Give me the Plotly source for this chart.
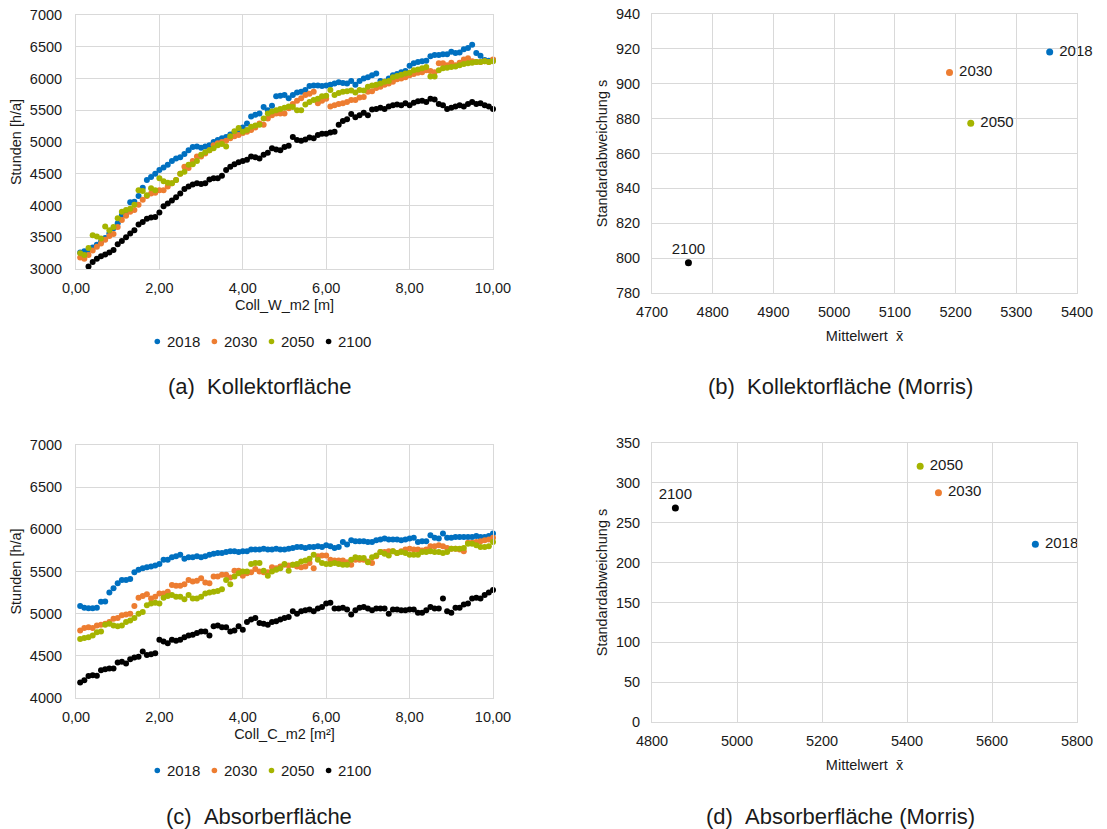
import numpy as np
import plotly.graph_objects as go

YEARS = ["2018", "2030", "2050", "2100"]
COLORS = ["#0070C0", "#ED7D31", "#A5B400", "#000000"]

# x positions (parameter value, step 0.1)
X = np.round(np.arange(1, 101) * 0.1, 1)

# (a) Kollektorfläche – Stunden [h/a]
A_2018 = [3260, 3280, 3300, 3340, 3380, 3430, 3490, 3560, 3640, 3720,
          3850, 3880, 4050, 4060, 4150, 4280, 4400, 4450, 4500, 4560,
          4600, 4640, 4700, 4740, 4760, 4810, 4870, 4920, 4930, 4910,
          4930, 4950, 5000, 5030, 5060, 5080, 5120, 5150, 5190, 5230,
          5290, 5400, 5430, 5450, 5550, 5500, 5570, 5720, 5730, 5740,
          5690, 5740, 5780, 5790, 5820, 5880, 5890, 5890, 5880, 5890,
          5900, 5920, 5940, 5930, 5920, 5960, 5900, 5960, 6000, 6020,
          6050, 6080, 5960, 5950, 6000, 6050, 6070, 6100, 6120, 6200,
          6240, 6260, 6270, 6280, 6350, 6370, 6370, 6380, 6380, 6420,
          6400, 6410, 6460, 6480, 6530, 6400, 6360, 6290, 6280, 6290]
A_2030 = [3180, 3160, 3220, 3290, 3350, 3400, 3460, 3520, 3550, 3660,
          3770, 3840, 3900, 3930, 4010, 4090, 4150, 4190, 4200, 4240,
          4240, 4300, 4350, 4400, 4500, 4610, 4590, 4700, 4770, 4770,
          4820, 4870, 4950, 4980, 5000, 5020, 5060, 5090, 5110, 5140,
          5160, 5190, 5230, 5290, 5270, 5370, 5420, 5450, 5450, 5450,
          5530, 5600, 5650, 5690, 5740, 5760, 5790, 5610, 5650, 5680,
          5560, 5580, 5600, 5610, 5630, 5660, 5660, 5700, 5710, 5790,
          5800, 5850, 5870, 5900, 5920, 5950, 5990, 6000, 6020, 6050,
          6070, 6090, 6100, 6130, 6120, 6100, 6240, 6240, 6210, 6250,
          6210, 6250, 6300, 6320, 6270, 6260, 6260, 6270, 6260, 6300]
A_2050 = [3250, 3220, 3330, 3530, 3510, 3480, 3670, 3610, 3660, 3800,
          3900, 3930, 3950, 4010, 4240, 4230, 4160, 4270, 4240, 4430,
          4380, 4360, 4350, 4400, 4500, 4530, 4640, 4650, 4700, 4800,
          4840, 4870, 4900, 4950, 4970, 4930, 5090, 5170, 5220, 5160,
          5190, 5240, 5260, 5270, 5370, 5450, 5480, 5500, 5520, 5540,
          5560, 5550, 5500, 5500, 5590, 5630, 5660, 5680, 5720, 5730,
          5820, 5740, 5770, 5790, 5800, 5810, 5780, 5820, 5810, 5870,
          5890, 5900, 5920, 5950, 5960, 6020, 6040, 6060, 6080, 6090,
          6130, 6140, 6160, 6180, 6030, 6030, 6130, 6160, 6170, 6180,
          6190, 6210, 6230, 6240, 6250, 6260, 6260, 6270, 6260, 6270]
A_2100 = [None, None, 3040, 3110, 3160, 3200, 3230, 3260, 3300, 3390,
          3440, 3500, 3560, 3610, 3700, 3740, 3790, 3810, 3820, 3890,
          3990, 4030, 4080, 4130, 4190, 4260, 4300, 4330, 4350, 4340,
          4350, 4410, 4430, 4430, 4470, 4560, 4610, 4650, 4680, 4700,
          4720, 4770, 4760, 4740, 4800, 4830, 4900, 4880, 4870, 4920,
          4940, 5080, 5030, 5020, 5040, 5070, 5060, 5110, 5130, 5130,
          5150, 5160, 5270, 5330, 5360, 5440, 5390, 5420, 5460, 5420,
          5510, 5520, 5540, 5520, 5560, 5580, 5590, 5580, 5610, 5580,
          5620, 5640, 5650, 5630, 5680, 5670, 5600, 5580, 5520, 5540,
          5560, 5580, 5560, 5600, 5630, 5600, 5610, 5580, 5560, 5520]

# (c) Absorberfläche – Stunden [h/a]
C_2018 = [5090, 5070, 5065, 5065, 5070, 5140, 5145, 5250, 5300, 5360,
          5400, 5400, 5410, 5490, 5520, 5540, 5550, 5560, 5570, 5590,
          5640, 5640, 5670, 5680, 5700, 5650, 5670, 5670, 5680, 5670,
          5680, 5700, 5710, 5720, 5720, 5730, 5740, 5740, 5730, 5740,
          5740, 5760, 5760, 5760, 5770, 5760, 5760, 5770, 5760, 5760,
          5770, 5780, 5790, 5790, 5780, 5790, 5790, 5800, 5790, 5810,
          5800, 5780, 5790, 5850, 5820, 5870, 5860, 5860, 5860, 5850,
          5850, 5870, 5880, 5890, 5880, 5880, 5880, 5870, 5880, 5890,
          5900, 5850, 5860, 5860, 5930, 5900, 5890, 5950, 5900, 5900,
          5910, 5910, 5910, 5910, 5910, 5920, 5910, 5910, 5920, 5950]
C_2030 = [4800, 4830, 4840, 4830, 4860, 4870, 4880, 4900, 4940, 4950,
          4980, 4990, 5000, 5090, 5190, 5210, 5230, 5180, 5200, 5240,
          5240, 5260, 5340, 5330, 5330, 5350, 5400, 5380, 5390, 5420,
          5370, 5360, 5440, 5440, 5460, 5460, 5430, 5510, 5510, 5450,
          5480, 5490, 5530, 5500, 5490, 5490, 5550, 5540, 5560, 5580,
          5570, 5580, 5560, 5550, 5560, 5600, 5540, 5680, 5690, 5690,
          5640, 5630, 5630, 5630, 5610, 5580, 5640, 5640, 5640, 5620,
          5600, 5680, 5730, 5730, 5740, 5740, 5720, 5740, 5760, 5770,
          5760, 5760, 5750, 5760, 5800, 5800, 5810, 5800, 5780, 5770,
          5770, 5760, 5740, 5840, 5840, 5850, 5860, 5870, 5880, 5900]
C_2050 = [4700, 4710, 4720, 4740, 4780, 4790, 4870, 4880, 4860, 4850,
          4860, 4900, 4920, 4950, 5000, 5020, 5100, 5120, 5130, 5120,
          5190, 5210, 5220, 5200, 5200, 5170, 5220, 5180, 5180, 5200,
          5240, 5250, 5260, 5270, 5290, 5400, 5350, 5440, 5480, 5500,
          5500, 5590, 5600, 5600, 5510, 5450, 5500, 5520, 5540, 5590,
          5510, 5580, 5590, 5620, 5630, 5650, 5700, 5640, 5600, 5590,
          5590, 5600, 5590, 5580, 5580, 5640, 5670, 5660, 5660, 5610,
          5670, 5690, 5730, 5710, 5690, 5740, 5720, 5730, 5720, 5700,
          5700, 5700, 5730, 5730, 5740, 5730, 5730, 5720, 5730, 5770,
          5770, 5770, 5780, 5830, 5830, 5810, 5790, 5790, 5800, 5850]
C_2100 = [4185, 4210, 4260, 4270, 4265, 4330, 4340, 4350, 4350, 4420,
          4430, 4410, 4460, 4480, 4490, 4550, 4510, 4520, 4530, 4690,
          4670, 4650, 4690, 4680, 4690, 4720, 4740, 4750, 4770, 4790,
          4790, 4740, 4850, 4860, 4840, 4840, 4790, 4800, 4850, 4810,
          4900, 4930, 4950, 4890, 4880, 4870, 4900, 4910, 4930, 4950,
          4960, 5030, 5000, 5030, 5040, 5050, 5030, 5060, 5080, 5120,
          5130, 5060, 5060, 5070, 5050, 4990, 5040, 5070, 5080, 5060,
          5040, 5060, 5060, 5060, 5000, 5050, 5050, 5040, 5040, 5050,
          5050, 5010, 5010, 5040, 5080, 5060, 5060, 5180, 5030, 5010,
          5070, 5070, 5110, 5120, 5180, 5190, 5180, 5220, 5250, 5280]

# (b) Morris – Kollektorfläche
B_MEAN = [5355, 5190, 5225, 4760]
B_STD = [918.2, 906.5, 877.4, 797.4]
B_POS = ["middle right", "middle right", "middle right", "top center"]

# (d) Morris – Absorberfläche
D_MEAN = [5702, 5474, 5431, 4855]
D_STD = [222.9, 287.7, 320.7, 268.4]
D_POS = ["middle right", "middle right", "middle right", "top center"]

SERIES_A = [A_2018, A_2030, A_2050, A_2100]
SERIES_C = [C_2018, C_2030, C_2050, C_2100]

FONT = "Liberation Sans, Arial, sans-serif"
TXT = "#1a1a1a"
GRID = "#d9d9d9"
# the page places the figure 8 px from the top-left corner of the window
OFF = 8
W, H = 1107 - OFF, 829 - OFF

fig = go.Figure()

for name, col, ya in zip(YEARS, COLORS, SERIES_A):
    fig.add_trace(go.Scatter(x=X, y=ya, mode="markers", name=name,
                             marker=dict(color=col, size=6),
                             xaxis="x", yaxis="y", showlegend=False,
                             cliponaxis=False))
for name, col, yc in zip(YEARS, COLORS, SERIES_C):
    fig.add_trace(go.Scatter(x=X, y=yc, mode="markers", name=name,
                             marker=dict(color=col, size=6),
                             xaxis="x3", yaxis="y3", showlegend=False,
                             cliponaxis=False))
for i, (name, col) in enumerate(zip(YEARS, COLORS)):
    lab_b = name if B_POS[i] == "top center" else "\u00a0" + name
    lab_d = name if D_POS[i] == "top center" else "\u00a0" + name
    fig.add_trace(go.Scatter(x=[B_MEAN[i]], y=[B_STD[i]], mode="markers+text",
                             text=[lab_b], textposition=B_POS[i], name=name,
                             textfont=dict(size=15, color=TXT, family=FONT),
                             marker=dict(color=col, size=7), showlegend=False,
                             xaxis="x2", yaxis="y2", cliponaxis=False))
    fig.add_trace(go.Scatter(x=[D_MEAN[i]], y=[D_STD[i]], mode="markers+text",
                             text=[lab_d], textposition=D_POS[i], name=name,
                             textfont=dict(size=15, color=TXT, family=FONT),
                             marker=dict(color=col, size=7), showlegend=False,
                             xaxis="x4", yaxis="y4", cliponaxis=False))


def fx(px):
    return (px - OFF) / W


def fy(py):
    return 1 - (py - OFF) / H


def px_dom_x(a, b):
    return [fx(a), fx(b)]


def px_dom_y(top, bottom):
    return [fy(bottom), fy(top)]


axis_common = dict(showgrid=True, gridcolor=GRID, gridwidth=1, zeroline=False,
                   showline=True, linecolor=GRID, linewidth=1, mirror=True,
                   automargin=False, ticklabeloverflow="allow",
                   ticks="", tickfont=dict(size=14.5, color=TXT, family=FONT),
                   title_font=dict(size=14.5, color=TXT, family=FONT))

fig.update_layout(
    width=W, height=H,
    margin=dict(l=0, r=0, t=0, b=0),
    paper_bgcolor="white", plot_bgcolor="white",
    separators=",.",
    showlegend=False,
    font=dict(family=FONT, color=TXT),
    xaxis=dict(axis_common, domain=px_dom_x(76, 493), anchor="y",
               range=[0, 10], dtick=2, tickformat=".2f", ticklabelstandoff=6,
               title=dict(text="Coll_W_m2 [m]", standoff=4)),
    yaxis=dict(axis_common, domain=px_dom_y(15, 269), anchor="x",
               range=[3000, 7000], dtick=500, tickformat="d", ticklabelstandoff=10,
               title=dict(text="Stunden [h/a]", standoff=4)),
    xaxis3=dict(axis_common, domain=px_dom_x(76, 493), anchor="y3",
                range=[0, 10], dtick=2, tickformat=".2f", ticklabelstandoff=6,
                title=dict(text="Coll_C_m2 [m²]", standoff=4)),
    yaxis3=dict(axis_common, domain=px_dom_y(445, 698), anchor="x3",
                range=[4000, 7000], dtick=500, tickformat="d", ticklabelstandoff=10,
                title=dict(text="Stunden [h/a]", standoff=4)),
    xaxis2=dict(axis_common, domain=px_dom_x(652, 1077), anchor="y2",
                range=[4700, 5400], dtick=100, tickformat="d", ticklabelstandoff=6,
                title=dict(text="Mittelwert  x\u0304", standoff=11)),
    yaxis2=dict(axis_common, domain=px_dom_y(14, 293), anchor="x2",
                range=[780, 940], dtick=20, tickformat="d", ticklabelstandoff=8,
                title=dict(text="Standardabweichung s", standoff=4)),
    xaxis4=dict(axis_common, domain=px_dom_x(652, 1077), anchor="y4",
                range=[4800, 5800], dtick=200, tickformat="d", ticklabelstandoff=6,
                title=dict(text="Mittelwert  x\u0304", standoff=11)),
    yaxis4=dict(axis_common, domain=px_dom_y(443, 722), anchor="x4",
                range=[0, 350], dtick=50, tickformat="d", ticklabelstandoff=8,
                title=dict(text="Standardabweichung s", standoff=4)),
)

# legends below panels (a) and (c): dot + label for each year
LEG_X0, LEG_STEP = 157.3, 57.1
LEG_ROWS = [341.5, 770.5]
for ly in LEG_ROWS:
    for i, (name, col) in enumerate(zip(YEARS, COLORS)):
        cx = LEG_X0 + i * LEG_STEP
        r = 2.8
        fig.add_shape(type="circle", xref="paper", yref="paper",
                      x0=fx(cx - r), x1=fx(cx + r),
                      y0=fy(ly + r), y1=fy(ly - r),
                      fillcolor=col, line=dict(width=0))
        fig.add_annotation(text=name, xref="paper", yref="paper",
                           x=fx(cx + 7.5), y=fy(ly),
                           xanchor="left", yanchor="middle", showarrow=False,
                           font=dict(size=15, color=TXT, family=FONT))

CAPTIONS = [
    ("(a)\u00a0\u00a0Kollektorfläche", 259, 387),
    ("(b)\u00a0\u00a0Kollektorfläche (Morris)", 840, 387),
    ("(c)\u00a0\u00a0Absorberfläche", 259, 816),
    ("(d)\u00a0\u00a0Absorberfläche (Morris)", 840, 816),
]
for text, cx, cy in CAPTIONS:
    fig.add_annotation(text=text, xref="paper", yref="paper",
                       x=fx(cx), y=fy(cy), xanchor="center", yanchor="middle",
                       showarrow=False,
                       font=dict(size=22, color=TXT, family=FONT))

fig.write_html("out.html")
